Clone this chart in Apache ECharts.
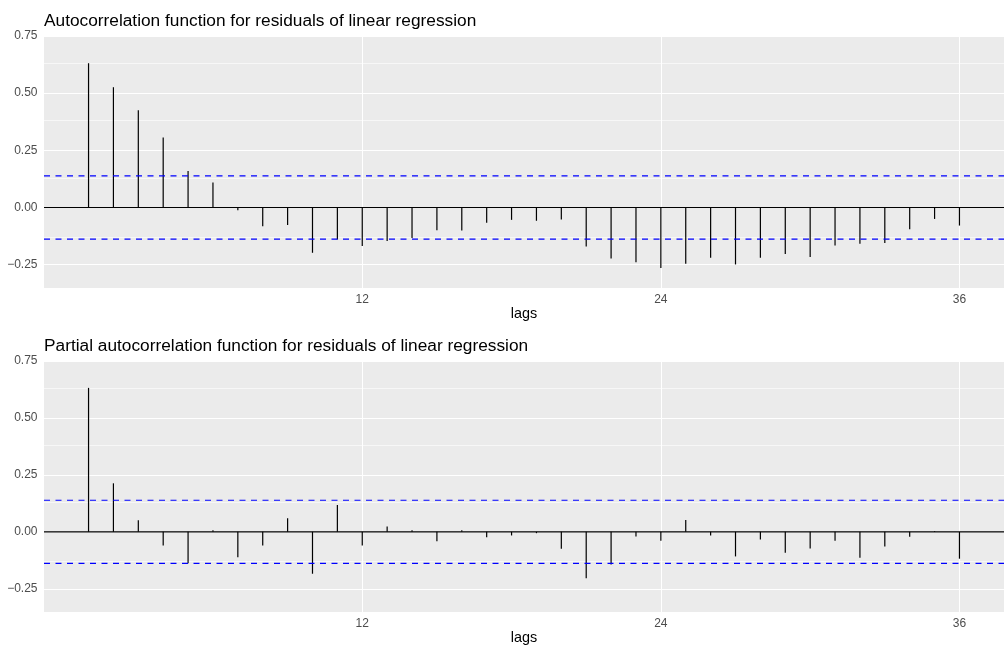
<!DOCTYPE html>
<html>
<head>
<meta charset="utf-8">
<script src="https://cdn.jsdelivr.net/npm/echarts@6/dist/echarts.min.js"></script>
<style>
html,body{margin:0;padding:0;background:#fff;}
#chart{width:1004px;height:646px;}
</style>
</head>
<body>
<div id="chart"></div>
<script>
const lags = [1,2,3,4,5,6,7,8,9,10,11,12,13,14,15,16,17,18,19,20,21,22,23,24,25,26,27,28,29,30,31,32,33,34,35,36];
const acfValues = [0.631,0.526,0.425,0.306,0.160,0.109,-0.012,-0.082,-0.077,-0.198,-0.140,-0.168,-0.146,-0.133,-0.099,-0.101,-0.067,-0.054,-0.058,-0.052,-0.171,-0.223,-0.239,-0.265,-0.246,-0.220,-0.249,-0.220,-0.203,-0.216,-0.166,-0.159,-0.155,-0.095,-0.050,-0.079];
const pacfValues = [0.632,0.213,0.051,-0.060,-0.138,0.007,-0.112,-0.060,0.060,-0.184,0.118,-0.060,0.023,0.007,-0.041,0.007,-0.024,-0.016,-0.006,-0.074,-0.204,-0.143,-0.020,-0.039,0.052,-0.016,-0.108,-0.034,-0.092,-0.073,-0.039,-0.114,-0.064,-0.022,0.003,-0.118];
const ciBound = 0.1386;
const xRange = [-0.79, 37.79];
const xTickValues = [12, 24, 36];
const yTickValues = [-0.25, 0, 0.25, 0.5, 0.75];
const yMinorValues = [-0.125, 0.125, 0.375, 0.625];
const titles = ["Autocorrelation function for residuals of linear regression",
                "Partial autocorrelation function for residuals of linear regression"];
const xAxisTitle = "lags";

const FONT = "'Liberation Sans', Arial, Helvetica, sans-serif";
const chart = echarts.init(document.getElementById('chart'), null, {renderer: 'canvas'});

const gridTops = [36, 361];
const gridH = 252;

function fmtY(v) {
  const s = Math.abs(v).toFixed(2);
  return v < 0 ? '\u2212' + s : s;
}

const grids = gridTops.map(t => ({
  left: 44, top: t, width: 972, height: gridH,
  show: true, backgroundColor: '#EBEBEB', borderWidth: 0
}));

const xAxes = [0, 1].map(i => ({
  type: 'value', gridIndex: i, min: xRange[0], max: xRange[1],
  name: xAxisTitle, nameLocation: 'middle', nameGap: 19,
  nameTextStyle: {color: '#000', fontSize: 14.4, fontFamily: FONT},
  axisLine: {show: false},
  axisTick: {show: true, length: 3, customValues: xTickValues, lineStyle: {color: '#333', width: 1}},
  axisLabel: {show: true, customValues: xTickValues, margin: 6, color: '#4d4d4d', fontSize: 12, fontFamily: FONT},
  splitLine: {show: false}
}));

const yAxes = [0, 1].map(i => ({
  type: 'value', gridIndex: i, min: -0.352, max: 0.75,
  axisLine: {show: false},
  axisTick: {show: true, length: 3, customValues: yTickValues, lineStyle: {color: '#333', width: 1}},
  axisLabel: {show: true, customValues: yTickValues, margin: 6.5, color: '#4d4d4d', fontSize: 12, fontFamily: FONT, formatter: fmtY},
  splitLine: {show: false}
}));

function gridLines(i, items, width) {
  return {
    type: 'line', xAxisIndex: i, yAxisIndex: i, data: [], silent: true, z: 1,
    markLine: {silent: true, z: 1, symbol: 'none', label: {show: false}, animation: false,
      lineStyle: {color: '#ffffff', width: width, type: 'solid'}, emphasis: {disabled: true}, data: items}
  };
}

function hLine(i, y, color, width, type) {
  return {
    type: 'line', xAxisIndex: i, yAxisIndex: i, silent: true, z: 4, showSymbol: false, symbol: 'none',
    animation: false, color: color,
    lineStyle: {color: color, width: width, type: type},
    itemStyle: {color: color},
    emphasis: {disabled: true},
    data: [[xRange[0], y], [xRange[1], y]]
  };
}

function panelSeries(i, values) {
  return [
    gridLines(i, yMinorValues.map(v => ({yAxis: v})), 0.6),
    gridLines(i, yTickValues.map(v => ({yAxis: v})).concat(xTickValues.map(v => ({xAxis: v}))), 1.1),
    {
      type: 'bar', xAxisIndex: i, yAxisIndex: i, z: 3, barWidth: 1.2, animation: false,
      itemStyle: {color: '#000'},
      data: lags.map((l, k) => [l, values[k]])
    },
    hLine(i, 0, '#000000', 1.1, 'solid'),
    hLine(i, ciBound, '#0000ff', 1.2, [6, 5.5]),
    hLine(i, -ciBound, '#0000ff', 1.2, [6, 5.5])
  ];
}

chart.setOption({
  animation: false,
  backgroundColor: '#fff',
  title: titles.map((t, i) => ({
    text: t, left: 44, top: gridTops[i] - 23, padding: 0,
    textStyle: {color: '#000', fontSize: 17.3, fontWeight: 'normal', fontFamily: FONT}
  })),
  grid: grids,
  xAxis: xAxes,
  yAxis: yAxes,
  series: [].concat(panelSeries(0, acfValues), panelSeries(1, pacfValues))
});
</script>
</body>
</html>
